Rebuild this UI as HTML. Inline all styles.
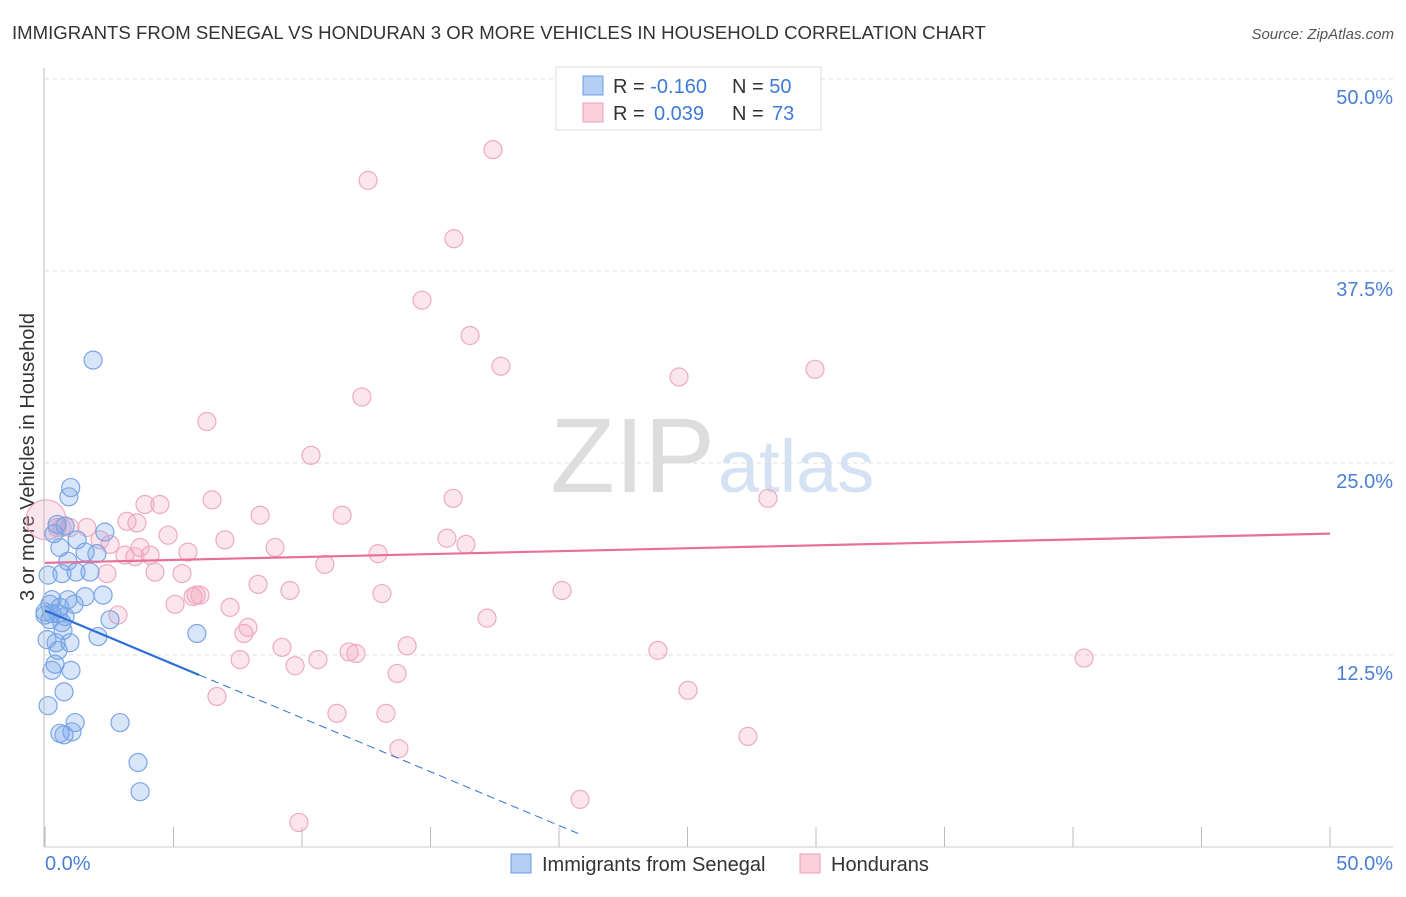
<!DOCTYPE html>
<html><head><meta charset="utf-8"><style>
body{margin:0;background:#fff;font-family:"Liberation Sans",sans-serif;}
svg text{font-family:"Liberation Sans",sans-serif;}
</style></head><body>
<svg id="c" width="1406" height="892" xmlns="http://www.w3.org/2000/svg">
<text x="12" y="39" font-size="18.6" fill="#333">IMMIGRANTS FROM SENEGAL VS HONDURAN 3 OR MORE VEHICLES IN HOUSEHOLD CORRELATION CHART</text>
<text x="1394" y="39" font-size="15" fill="#555" font-style="italic" text-anchor="end">Source: ZipAtlas.com</text>
<text x="715" y="492" font-size="106" fill="#ddd" text-anchor="end" font-family="Liberation Serif">ZIP</text>
<text x="718" y="492" font-size="74" fill="#d4e2f4">atlas</text>
<text transform="translate(34,457) rotate(-90)" font-size="20" fill="#333" text-anchor="middle">3 or more Vehicles in Household</text>
<g id="grid"></g><g id="pts"></g><g id="trend"></g>
<line x1="44" y1="68" x2="44" y2="847" stroke="#bbb"/>
<line x1="44" y1="847" x2="1393" y2="847" stroke="#ccc"/>
<text x="45" y="870" font-size="20" fill="#4a7fd4">0.0%</text>
<text x="1393" y="870" font-size="20" fill="#4a7fd4" text-anchor="end">50.0%</text>
<g>
<rect x="556" y="67" width="265" height="63" fill="#fff" stroke="#ddd"/>
<rect x="583" y="76" width="20" height="19" fill="#b5cdf2" stroke="#6d9be0"/>
<rect x="583" y="103" width="20" height="19" fill="#fbcfdc" stroke="#ee9fb8"/>
<text x="613" y="93" font-size="20" fill="#333">R = <tspan fill="#3d7bd9">-0.160</tspan><tspan x="732">N = </tspan><tspan fill="#3d7bd9">50</tspan></text>
<text x="613" y="120" font-size="20" fill="#333">R = <tspan fill="#3d7bd9" x="654">0.039</tspan><tspan x="732">N = </tspan><tspan fill="#3d7bd9" x="772">73</tspan></text>
</g>
<g>
<rect x="511" y="854" width="20" height="19" fill="#b5cdf2" stroke="#6d9be0"/>
<text x="542" y="871" font-size="20" fill="#333">Immigrants from Senegal</text>
<rect x="800" y="854" width="20" height="19" fill="#fbcfdc" stroke="#ee9fb8"/>
<text x="831" y="871" font-size="20" fill="#333">Hondurans</text>
</g>
</svg>
<script>
const yTicks=[12.5,25,37.5,50];
const yTickLabels=["12.5%","25.0%","37.5%","50.0%"];
const xTicks=[0,5,10,15,20,25,30,35,40,45,50];
const blueX=[1.0,.93,.47,.78,.35,2.33,.58,1.25,2.02,.89,.66,.12,1.75,1.21,.19,.58,1.13,2.26,1.56,.51,.27,.78,0,.66,.70,.43,.97,2.06,5.91,.51,.39,1.01,.27,.74,.12,1.17,2.92,.74,.58,1.05,3.62,3.70,1.87,1.56,0,.27,.19,.08,2.53,.89];
const blueY=[23.4,22.8,21.0,20.9,20.4,20.5,19.5,20.0,19.1,18.6,17.8,17.7,17.9,17.9,15.8,15.6,15.8,16.4,16.3,15.2,15.2,15.0,15.1,14.6,14.1,13.3,13.3,13.7,13.9,12.8,11.9,11.5,11.5,10.1,9.2,8.1,8.1,7.3,7.4,7.5,5.5,3.6,31.7,19.2,15.3,16.1,14.8,13.5,14.8,16.1];
const pinkX=[.04,.47,.97,.66,1.63,3.19,3.5,3.7,2.53,2.14,2.41,3.11,4.09,4.28,4.47,3.89,3.58,4.79,5.33,5.56,5.06,5.88,6.5,6.3,6.03,6.69,7.0,7.2,7.59,7.74,7.9,8.29,8.37,8.95,9.22,9.53,9.73,9.88,10.35,10.62,10.89,11.36,11.56,11.83,12.1,12.33,12.57,12.96,13.11,13.27,13.7,13.77,14.09,14.67,15.64,15.88,15.91,16.38,16.54,17.2,17.43,17.74,20.12,20.82,23.85,24.67,25.02,27.35,28.13,29.96,40.43,2.84,5.76];
const pinkY=[21.3,20.8,20.8,20.8,20.8,21.2,18.9,19.5,19.7,20.0,17.8,19.0,19.0,17.9,22.3,22.3,21.1,20.3,17.8,19.2,15.8,16.4,22.6,27.7,16.4,9.8,20.0,15.6,12.2,13.9,14.3,17.1,21.6,19.5,13.0,16.7,11.8,1.6,25.5,12.2,18.4,8.7,21.6,12.7,12.6,29.3,43.4,19.1,16.5,8.7,11.3,6.4,13.1,35.6,20.1,22.7,39.6,19.7,33.3,14.9,45.4,31.3,16.7,3.1,12.8,30.6,10.2,7.2,22.7,31.1,12.3,15.1,16.3];
const blueTrend=[15.4,-0.7];
const pinkTrend=[18.5,0.038];
const NS="http://www.w3.org/2000/svg";
function X(v){return 45+v*25.7;}
function Y(v){return 847-v*15.36;}
function mk(t,a,p){const e=document.createElementNS(NS,t);for(const k in a)e.setAttribute(k,a[k]);p.appendChild(e);return e;}
const grid=document.getElementById('grid');
yTicks.forEach((v,i)=>{
 const l=mk('line',{x1:45,x2:1393,y1:Y(v),y2:Y(v),stroke:'#ddd','stroke-dasharray':'4,4'},grid);
 
 
 const t=mk('text',{x:1393,y:Y(v)+25,'font-size':20,fill:'#4a7fd4','text-anchor':'end'},grid);
 t.textContent=yTickLabels[i];
 
 
});
xTicks.forEach(v=>{
 const l=mk('line',{x1:X(v),x2:X(v),y1:827,y2:847,stroke:'#bbb'},grid);
 
 
});
const pts=document.getElementById('pts');
pinkX.forEach((x,i)=>{
 const c=mk('circle',{cx:X(x),cy:Y(pinkY[i]),r:i==0?20:9,fill:'rgba(245,165,190,0.28)',stroke:'#eeaac0','stroke-width':1.2},pts);
 
 
});
blueX.forEach((x,i)=>{
 const c=mk('circle',{cx:X(x),cy:Y(blueY[i]),r:9,fill:'rgba(120,165,235,0.28)',stroke:'#7aa5e6','stroke-width':1.2},pts);
 
 
});
const tr=document.getElementById('trend');
let l=mk('line',{x1:X(0),y1:Y(pinkTrend[0]),x2:X(50),y2:Y(pinkTrend[0]+pinkTrend[1]*50),stroke:'#e86f98','stroke-width':2.2},tr);


const bx=6,bz=20.8;
l=mk('line',{x1:X(0),y1:Y(blueTrend[0]),x2:X(bx),y2:Y(blueTrend[0]+blueTrend[1]*bx),stroke:'#2d6fd6','stroke-width':2.2},tr);


l=mk('line',{x1:X(bx),y1:Y(blueTrend[0]+blueTrend[1]*bx),x2:X(bz),y2:Y(blueTrend[0]+blueTrend[1]*bz),stroke:'#2d6fd6','stroke-width':1,'stroke-dasharray':'8,5'},tr);


</script>
</body></html>
